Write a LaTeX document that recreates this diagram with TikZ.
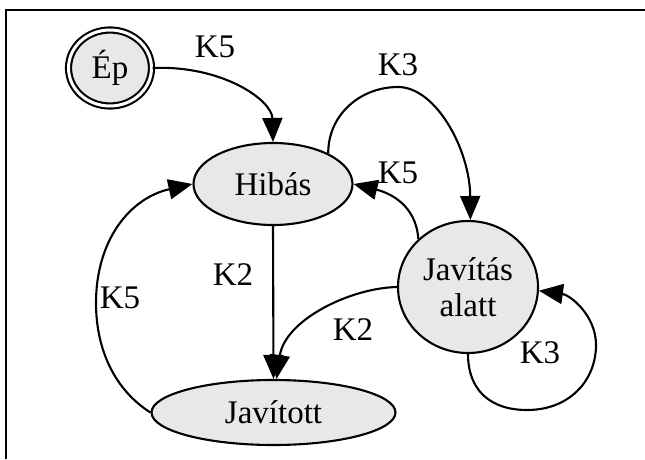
\documentclass[tikz,border=0pt]{standalone}
\usepackage{fontspec}
\setmainfont{Liberation Serif}
\usetikzlibrary{shapes.geometric,arrows.meta}
\definecolor{nodefill}{HTML}{E8E8E8}
\tikzset{
  state/.style={ellipse, draw=black, fill=nodefill, line width=2.1pt, inner sep=0pt, align=center,
    font=\fontsize{33}{36}\selectfont},
  edge/.style={line width=2.1pt, -{Triangle[length=24pt,width=20pt]}},
  lbl/.style={font=\fontsize{33}{36}\selectfont, inner sep=0pt},
  frame/.style={line width=2pt}
}
\begin{document}
\begin{tikzpicture}[x=1pt,y=1pt]
\useasboundingbox (0,0) rectangle (645,459);
% frame (top and left borders)
\coordinate (fa) at (6,0);
\coordinate (fb) at (6,449);
\coordinate (fc) at (645,449);
\draw[frame] (fa) -- (fb) -- (fc);
% nodes
\node[state, double=white, double distance=3pt, minimum width=83pt, minimum height=76pt] (ep) at (110,391) {Ép};
\node[state, minimum width=159pt, minimum height=82pt] (hib) at (273,275) {Hibás};
\node[state, minimum width=140pt, minimum height=132pt] (jav) at (468,172) {Javítás\\alatt};
\node[state, minimum width=244pt, minimum height=65pt] (javd) at (273.5,46.5) {Javított};
% edges
\draw[edge] (ep.east) .. controls (222,394) and (272,359) .. (hib.north);
\node[lbl] (l1) at (215,412) {K5};
\draw[edge] (hib.29) .. controls (328,344) and (360,372) .. (398,372)
  .. controls (436,372) and (470,309) .. (jav.88);
\node[lbl] (l2) at (398,394) {K3};
\draw[edge] (jav.136) .. controls (416,254) and (390,266) .. (hib.east);
\node[lbl] (l3) at (398,286) {K5};
\draw[edge] (hib.south) -- (javd.north);
\node[lbl] (l4) at (233,184) {K2};
\draw[edge] (jav.west) .. controls (350,171) and (285,139) .. (javd.85);
\node[lbl] (l5) at (353,129) {K2};
\draw[edge] (javd.west) .. controls (115,69) and (96,109) .. (96,156)
  .. controls (96,219) and (130,261) .. (hib.west);
\node[lbl] (l6) at (120,161) {K5};
\draw[edge] (jav.south) .. controls (468,69) and (490,49) .. (527,49)
  .. controls (570,49) and (596,79) .. (596,114)
  .. controls (596,144) and (570,164) .. (jav.-3);
\node[lbl] (l7) at (540,106) {K3};
\end{tikzpicture}
\end{document}
